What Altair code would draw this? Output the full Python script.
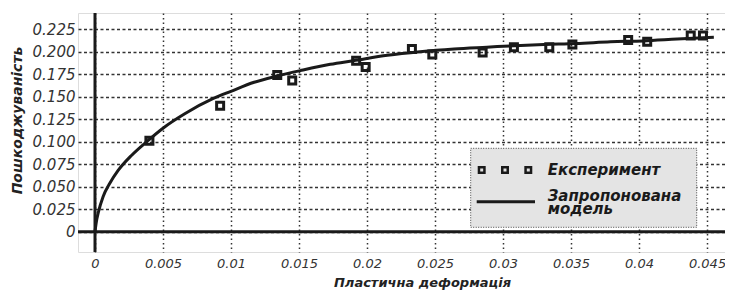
import altair as alt
import pandas as pd

exp_x = [0.0040, 0.0092, 0.0134, 0.0145, 0.0192, 0.0199, 0.0233, 0.0248,
         0.0285, 0.0308, 0.0334, 0.0351, 0.0392, 0.0406, 0.0438, 0.0447]
exp_y = [0.101, 0.140, 0.174, 0.168, 0.190, 0.183, 0.203, 0.197,
         0.199, 0.205, 0.205, 0.208, 0.213, 0.211, 0.218, 0.218]

# Proposed model curve
mod_x = [0, 0.0001, 0.00024, 0.0006, 0.0011, 0.0017, 0.0027, 0.0038, 0.005,
         0.0066, 0.0087, 0.0100, 0.0117, 0.0134, 0.0151, 0.0173, 0.0190,
         0.0215, 0.0239, 0.0264, 0.0288, 0.0313, 0.0330, 0.0354, 0.0379,
         0.0403, 0.0428, 0.0455]
mod_y = [0, 0.011, 0.021, 0.039, 0.054, 0.068, 0.085, 0.100, 0.115,
         0.131, 0.148, 0.156, 0.166, 0.173, 0.179, 0.186, 0.190,
         0.196, 0.200, 0.203, 0.205, 0.207, 0.208, 0.209, 0.211,
         0.212, 0.214, 0.216]

x_ticks = [0, 0.005, 0.01, 0.015, 0.02, 0.025, 0.03, 0.035, 0.04, 0.045]
y_ticks = [0, 0.025, 0.05, 0.075, 0.1, 0.125, 0.15, 0.175, 0.2, 0.225]

x_title = "Пластична деформація"
y_title = "Пошкоджуваність"
legend_labels = ["Експеримент", "Запропонована", "модель"]

FONT = "DejaVu Sans"
W, H = 647, 239

exp_df = pd.DataFrame({"x": exp_x, "y": exp_y})
mod_df = pd.DataFrame({"x": mod_x, "y": mod_y})
zero_df = pd.DataFrame({"x": [0], "y": [0]})
one = pd.DataFrame({"a": [0]})

xs = alt.Scale(domain=[-0.00125, 0.04632], nice=False, zero=False)
ys = alt.Scale(domain=[-0.0226, 0.243], nice=False, zero=False)

x_axis = alt.Axis(
    values=x_ticks, format="~g", grid=True, gridDash=[1.5, 3], gridColor="#333",
    gridWidth=1.5, domain=False, ticks=False, labelFont=FONT, labelFontSize=13,
    labelFontStyle="italic", labelColor="#333", labelPadding=5,
    labelOverlap=False, title=x_title, titleFont=FONT, titleFontSize=13,
    titleFontStyle="italic", titleFontWeight="bold", titleColor="#222",
    titleX=344, titleY=34, titleAlign="center", titleBaseline="alphabetic",
)
y_axis = alt.Axis(
    values=y_ticks, labelExpr="datum.value == 0 ? '0' : format(datum.value, '.3f')",
    grid=True, gridDash=[3, 2.5], gridColor="#333", gridWidth=1.4, domain=False,
    ticks=False, labelFont=FONT, labelFontSize=15, labelFontStyle="italic",
    labelColor="#333", labelPadding=3, labelOverlap=False, title=y_title,
    titleFont=FONT, titleFontSize=14, titleFontStyle="italic",
    titleFontWeight="bold", titleColor="#222", titleX=-61, titleY=107,
    titleAngle=270, titleAlign="center", titleBaseline="middle",
)

X = alt.X("x:Q", scale=xs, axis=x_axis)
Y = alt.Y("y:Q", scale=ys, axis=y_axis)

model = alt.Chart(mod_df).mark_line(
    color="#1a1a1a", strokeWidth=3, interpolate="monotone"
).encode(x=X, y=Y)

points = alt.Chart(exp_df).mark_square(
    filled=False, color="#1a1a1a", strokeWidth=3, size=49, opacity=1
).encode(x=X, y=Y)

vrule = alt.Chart(zero_df).mark_rule(color="#1a1a1a", strokeWidth=3).encode(x=X)
hrule = alt.Chart(zero_df).mark_rule(color="#1a1a1a", strokeWidth=3).encode(y=Y)

# Legend box (decoration)
box = alt.Chart(one).mark_rect(
    fill="#e4e4e4", stroke="#444", strokeWidth=1, strokeDash=[1, 1.5]
).encode(
    x=alt.value(392.7), x2=alt.value(618.7), y=alt.value(135.3), y2=alt.value(214.3)
)
leg_layers = [box]
for px in [403.7, 427.0, 450.3]:
    leg_layers.append(
        alt.Chart(one).mark_square(
            filled=False, color="#1a1a1a", strokeWidth=2.5, size=30, opacity=1
        ).encode(x=alt.value(px), y=alt.value(157))
    )
leg_layers.append(
    alt.Chart(one).mark_rule(color="#1a1a1a", strokeWidth=3).encode(
        x=alt.value(398.7), x2=alt.value(457), y=alt.value(188.7)
    )
)
for txt, py in zip(legend_labels, [162, 188, 200.5]):
    leg_layers.append(
        alt.Chart(one).mark_text(
            font=FONT, fontSize=15, fontStyle="italic", fontWeight="bold",
            color="#1a1a1a", align="left", baseline="alphabetic"
        ).encode(x=alt.value(469.7), y=alt.value(py), text=alt.value(txt))
    )

chart = alt.layer(vrule, hrule, model, points, *leg_layers).properties(
    width=W, height=H,
    padding={"left": 70, "top": 5, "right": 0, "bottom": 38},
    autosize=alt.AutoSizeParams(type="none"),
).configure_view(stroke=None).configure(background="white")

chart.save("out.html", embed_options={"renderer": "svg", "actions": False})
